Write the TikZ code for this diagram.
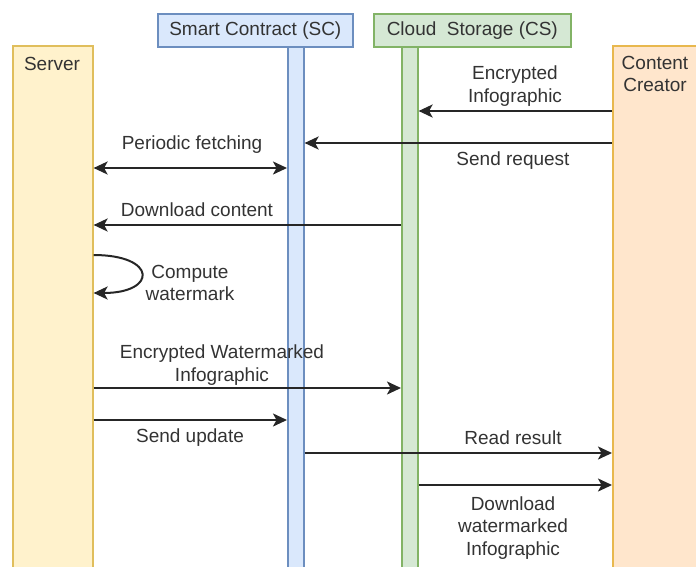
\documentclass[tikz,border=0pt]{standalone}
\usepackage{fontspec}
\setmainfont{Liberation Sans}
\usetikzlibrary{arrows.meta, positioning}
\definecolor{srvfill}{HTML}{FFF2CC}
\definecolor{srvline}{HTML}{E0BE5C}
\definecolor{scfill}{HTML}{DAE8FC}
\definecolor{scline}{HTML}{6C8EBF}
\definecolor{csfill}{HTML}{D5E8D4}
\definecolor{csline}{HTML}{82B366}
\definecolor{ccfill}{HTML}{FFE6CC}
\definecolor{ccline}{HTML}{E8B84E}

\begin{document}
\begin{tikzpicture}[x=1pt, y=-1pt, font=\fontsize{19}{22.5}\selectfont,
    box/.style={draw, line width=1.6pt, inner sep=0pt, anchor=north west, text=black!80},
    msg/.style={draw=black!85, line width=2pt},
    lbl/.style={text=black!80, align=center, inner sep=0pt},
    >={Stealth[length=14pt, width=13pt, inset=3.5pt]}]

  \useasboundingbox (0,0) rectangle (696,566);

  \node[box, draw=srvline, fill=srvfill, minimum width=80pt, minimum height=525pt] (S) at (12,45) {};
  \node[box, draw=scline, fill=scfill, minimum width=195pt, minimum height=33pt] (SC) at (157,13) {\raisebox{-1pt}{Smart Contract (SC)}};
  \node[box, draw=scline, fill=scfill, minimum width=16pt, minimum height=522pt] (SCb) at (287,46) {};
  \node[box, draw=csline, fill=csfill, minimum width=197pt, minimum height=33pt] (CS) at (373,13) {\raisebox{-1pt}{Cloud\ \ Storage (CS)}};
  \node[box, draw=csline, fill=csfill, minimum width=16pt, minimum height=522pt] (CSb) at (401,46) {};
  \node[box, draw=ccline, fill=ccfill, minimum width=90pt, minimum height=525pt] (CC) at (612,45) {};

  \node[lbl] (St) at (52,64) {Server};
  \node[lbl] (CCt) at (655,74) {Content\\Creator};

  \coordinate (r1) at (0,111);
  \coordinate (r2) at (0,143);
  \coordinate (r3) at (0,168);
  \coordinate (r4) at (0,225);
  \coordinate (r5) at (0,255);
  \coordinate (r6) at (0,293);
  \coordinate (r7) at (0,388);
  \coordinate (r8) at (0,420);
  \coordinate (r9) at (0,453);
  \coordinate (r10) at (0,485);

  \draw[msg,->] (CC.west |- r1) -- (CSb.east |- r1);
  \draw[msg,->] (CC.west |- r2) -- (SCb.east |- r2);
  \draw[msg,<->] (S.east |- r3) -- (SCb.west |- r3);
  \draw[msg,->] (CSb.west |- r4) -- (S.east |- r4);
  \draw[msg,->] (S.east |- r5) to[out=0, in=0, looseness=4.3] (S.east |- r6);
  \draw[msg,->] (S.east |- r7) -- (CSb.west |- r7);
  \draw[msg,->] (S.east |- r8) -- (SCb.west |- r8);
  \draw[msg,->] (SCb.east |- r9) -- (CC.west |- r9);
  \draw[msg,->] (CSb.east |- r10) -- (CC.west |- r10);

  \node[lbl] (l1) at (515,86) {Encrypted\\Infographic};
  \node[lbl] (l2) at (513,161) {Send request};
  \node[lbl] (l3) at (192,145) {Periodic fetching};
  \node[lbl] (l4) at (197,210) {Download content};
  \node[lbl] (l5) at (190,283) {Compute\\watermark};
  \node[lbl] (l6) at (222,365) {Encrypted Watermarked\\Infographic};
  \node[lbl] (l7) at (190,438) {Send update};
  \node[lbl] (l8) at (513,438) {Read result};
  \node[lbl] (l9) at (513,528) {Download\\watermarked\\Infographic};
\end{tikzpicture}
\end{document}
